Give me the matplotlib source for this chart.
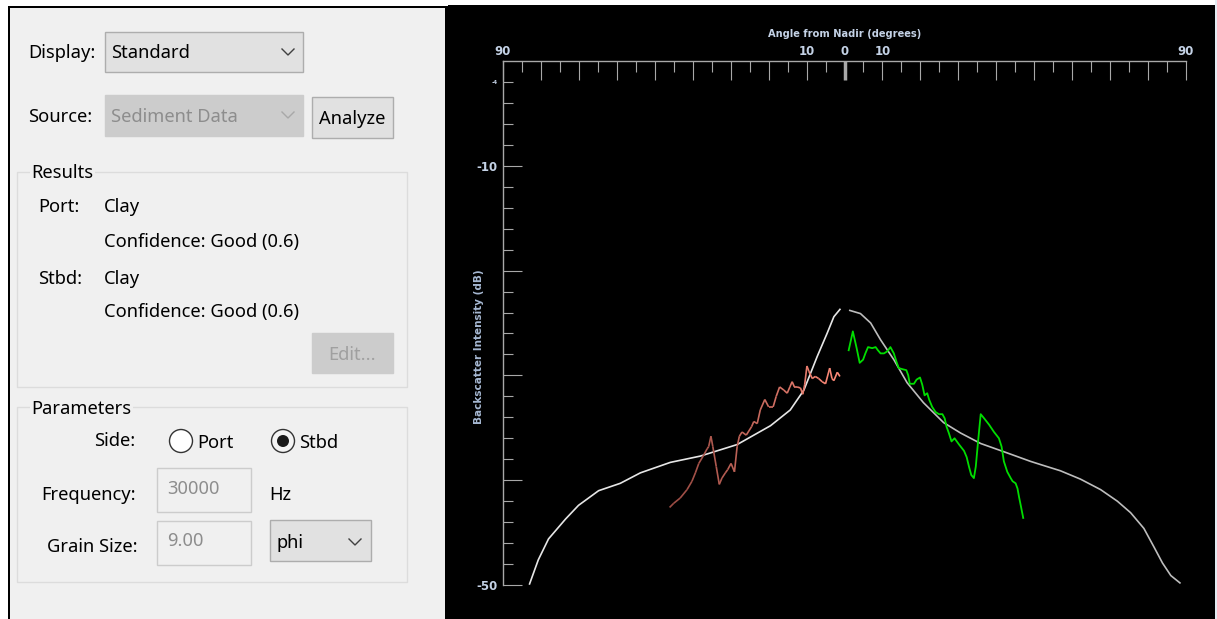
import numpy as np
import matplotlib
matplotlib.use("Agg")
from matplotlib import pyplot as plt
from matplotlib.patches import Rectangle, Circle
from matplotlib.collections import LineCollection
from matplotlib.colors import LinearSegmentedColormap

# model curve (white), port side and starboard side
model_port_angle = [-83.0, -80.7, -78.0, -73.5, -70.1, -64.8, -59.1, -53.8, -45.9, -38.0,
                    -28.3, -19.5, -14.3, -10.7, -7.2, -4.6, -2.8, -1.2]
model_port_db = [-49.9, -47.6, -45.6, -43.7, -42.4, -41.0, -40.3, -39.3, -38.3, -37.7,
                 -36.6, -34.8, -33.3, -31.4, -28.2, -26.0, -24.4, -23.7]
model_stbd_angle = [1.4, 4.2, 6.9, 9.5, 13.0, 16.5, 20.8, 26.1, 30.6, 35.9, 42.9, 49.0,
                    51.6, 56.9, 62.2, 67.5, 71.9, 75.4, 78.9, 81.6, 83.8, 86.0, 88.4]
model_stbd_db = [-23.8, -24.1, -25.0, -26.6, -28.5, -30.7, -32.6, -34.5, -35.5, -36.5,
                 -37.4, -38.2, -38.5, -39.1, -39.9, -40.9, -42.0, -43.1, -44.6, -46.4,
                 -47.9, -49.1, -49.8]

# measured port (red)
port_angle = [-46.1, -45.0, -43.3, -41.5, -40.2, -39.3, -38.4, -37.1, -36.2, -35.8, -35.2,
              -34.7, -33.8, -33.0, -32.3, -31.4, -30.8, -29.9, -29.0, -28.3, -27.7, -27.0,
              -25.9, -24.5, -23.9, -23.0, -22.2, -21.0, -20.0, -18.8, -18.0, -17.1, -16.0,
              -15.1, -14.4, -13.8, -13.2, -12.5, -11.6, -11.0, -10.5, -9.9, -9.4, -8.5,
              -7.7, -6.8, -5.9, -5.0, -3.9, -3.3, -2.8, -1.9, -1.2]
port_db = [-42.6, -42.2, -41.7, -40.9, -40.1, -39.3, -38.4, -37.6, -37.0, -36.8, -35.8,
           -36.8, -38.7, -40.4, -39.8, -39.3, -39.0, -38.4, -39.2, -36.8, -35.8, -35.4,
           -35.7, -34.9, -34.4, -34.6, -33.3, -32.3, -33.0, -33.0, -32.0, -31.1, -31.4,
           -31.7, -31.1, -30.6, -31.1, -31.1, -31.2, -31.8, -30.9, -29.1, -29.6, -30.3,
           -30.1, -30.3, -30.6, -30.8, -29.3, -30.3, -30.5, -29.7, -30.1]

# measured starboard (green)
stbd_angle = [1.1, 2.2, 3.2, 4.0, 4.9, 5.5, 6.2, 7.3, 8.2, 8.8, 9.5, 10.4, 11.3, 12.1, 13.0,
              13.7, 14.3, 15.2, 16.3, 16.8, 17.2, 18.3, 19.0, 19.9, 20.5, 21.1, 21.8, 22.3,
              23.1, 24.0, 24.9, 25.8, 26.4, 26.9, 27.5, 28.2, 29.0, 30.2, 31.5, 32.2, 32.8,
              33.4, 34.1, 34.6, 35.2, 35.9, 36.8, 38.1, 39.4, 40.7, 41.4, 42.0, 42.9, 43.8,
              44.3, 45.1, 45.6, 46.0, 46.5, 47.1]
stbd_db = [-27.6, -25.8, -27.4, -28.8, -28.5, -27.9, -27.3, -27.4, -27.3, -27.6, -27.9,
           -27.9, -27.7, -27.3, -27.9, -28.7, -29.3, -29.4, -29.5, -30.0, -30.8, -30.8,
           -30.4, -30.2, -30.9, -31.9, -31.7, -32.3, -33.0, -33.5, -33.7, -33.7, -34.1,
           -34.9, -35.5, -36.3, -36.0, -36.6, -37.2, -37.8, -38.7, -39.5, -39.8, -38.7,
           -36.3, -33.7, -34.1, -34.7, -35.4, -36.0, -36.8, -38.2, -39.2, -39.8, -40.1,
           -40.3, -40.8, -41.6, -42.5, -43.6]

x_major = list(range(-90, 91, 10))
x_labels = ['90', '', '', '', '', '', '', '', '10', '0', '10', '', '', '', '', '', '', '', '90']
y_major = [-50, -40, -30, -20, -10]
y_major_labels = ['-50', '', '', '', '-10']
y_minor = [v for v in range(-48, 0, 2) if v % 10 != 0]
y_minor_labels = ['-4' if v == -2 else '' for v in y_minor]

W, H = 1217, 619
fig = plt.figure(figsize=(W / 100, H / 100), dpi=100, facecolor='white')

# ---- background / left settings panel, drawn in pixel coordinates ----
ui = fig.add_axes([0, 0, 1, 1])
ui.set_xlim(0, W)
ui.set_ylim(H, 0)
ui.axis('off')

ui.add_patch(Rectangle((1215, 0), 2, H, facecolor='#e3ebf2', edgecolor='none'))
ui.add_patch(Rectangle((8, 6), 440, H, facecolor='black', edgecolor='none'))
ui.add_patch(Rectangle((10, 8), 435, H, facecolor='#f0f0f0', edgecolor='none'))
ui.add_patch(Rectangle((448, 5), 767, H, facecolor='black', edgecolor='none'))

gui_font = 'Noto Sans'
fs = 13.2


def label(x, y, s, color='black', ha='left', bg=None):
    # +1.5 px: Noto's centre sits a little high compared with the Windows font
    t = ui.text(x, y + 1.5, s, fontsize=fs, family=gui_font, color=color, ha=ha, va='center')
    if bg:
        t.set_bbox(dict(facecolor=bg, edgecolor='none', pad=1))
    return t


def box(x0, y0, x1, y1, face, edge):
    ui.add_patch(Rectangle((x0, y0), x1 - x0, y1 - y0, facecolor=face, edgecolor=edge, lw=1))


def chevron(x, y, color):
    ui.plot([x - 6, x, x + 6], [y - 3, y + 3, y - 3], color=color, lw=1)


label(28, 52, 'Display:')
box(105, 32, 303, 72, '#e1e1e1', '#adadad')
label(111, 52, 'Standard')
chevron(288, 52, '#404040')

label(28, 115, 'Source:')
box(105, 95, 303, 136, '#cccccc', '#cccccc')
label(111, 116, 'Sediment Data', color='#8d8d8d')
chevron(288, 115, '#a8a8a8')

box(312, 97, 393, 138, '#e1e1e1', '#adadad')
label(352.5, 118, 'Analyze', ha='center')

box(17, 172, 407, 387, 'none', '#dcdcdc')
label(31, 171, 'Results', bg='#f0f0f0')
label(38, 205, 'Port:')
label(104, 205, 'Clay')
label(104, 241, 'Confidence: Good (0.6)')
label(38, 278, 'Stbd:')
label(104, 278, 'Clay')
label(104, 311, 'Confidence: Good (0.6)')
box(312, 333, 393, 373, '#cccccc', '#cccccc')
label(352.5, 354, 'Edit...', color='#a0a0a0', ha='center')

box(17, 407, 407, 582, 'none', '#dcdcdc')
label(31, 407, 'Parameters', bg='#f0f0f0')
label(135, 440, 'Side:', ha='right')
ui.add_patch(Circle((181, 441), 11.5, facecolor='white', edgecolor='#333333', lw=1))
label(197, 441, 'Port')
ui.add_patch(Circle((283, 441), 11.5, facecolor='#f4f4f4', edgecolor='#333333', lw=1))
ui.add_patch(Circle((283, 441), 6, facecolor='#1a1a1a', edgecolor='none'))
label(299, 441, 'Stbd')

label(136, 493, 'Frequency:', ha='right')
box(157, 468, 251, 512, '#f0f0f0', '#cccccc')
label(167, 487, '30000', color='#8d8d8d')
label(269, 493, 'Hz')

label(138, 546, 'Grain Size:', ha='right')
box(157, 521, 251, 565, '#f0f0f0', '#cccccc')
label(167, 540, '9.00', color='#8d8d8d')
box(270, 520, 371, 561, '#e1e1e1', '#adadad')
label(276, 542, 'phi')
chevron(355, 542, '#404040')

# ---- backscatter chart ----
ax_l, ax_t, ax_r, ax_b = 503, 61, 1186, 585
ax = fig.add_axes([ax_l / W, 1 - ax_b / H, (ax_r - ax_l) / W, (ax_b - ax_t) / H])
ax.set_facecolor('black')
ax.set_xlim(-90, 90)
ax.set_ylim(-50, 0)

for s in ['bottom', 'right']:
    ax.spines[s].set_visible(False)
for s in ['top', 'left']:
    ax.spines[s].set_color('#a8a8a8')
    ax.spines[s].set_linewidth(1)

axis_txt = '#c4d2e6'
tick_font = ['Liberation Sans Narrow', 'DejaVu Sans']

ax.xaxis.tick_top()
ax.set_xticks(x_major, labels=x_labels)
ax.set_xticks(list(range(-85, 90, 10)), minor=True)
ax.tick_params(axis='x', which='major', direction='in', length=14, width=0.8,
               color='#a8a8a8', labelcolor=axis_txt, labelsize=8.5, pad=2)
ax.tick_params(axis='x', which='minor', direction='in', length=8, width=0.8, color='#a8a8a8')
ax.set_yticks(y_major, labels=y_major_labels)
ax.set_yticks(y_minor, labels=y_minor_labels, minor=True)
ax.tick_params(axis='y', which='major', direction='in', length=14, width=0.8,
               color='#a8a8a8', labelcolor=axis_txt, labelsize=8.5, pad=4)
ax.tick_params(axis='y', which='minor', direction='in', length=7, width=0.8,
               color='#a8a8a8', labelcolor=axis_txt, labelsize=4, pad=4)
for lab in ax.get_xticklabels() + ax.get_yticklabels() + ax.get_yticklabels(minor=True):
    lab.set_family(tick_font)
    lab.set_fontweight('bold')

# bright nadir tick
nadir = ax.xaxis.get_major_ticks()[x_major.index(0)]
nadir.tick2line.set_markeredgewidth(2.5)
nadir.tick2line.set_color('#e8e8e8')

ax.text(0.5, 1.052, 'Angle from Nadir (degrees)', transform=ax.transAxes, ha='center',
        va='center', color=axis_txt, fontsize=7.1, fontweight='bold', family=tick_font)
ax.set_ylabel('Backscatter Intensity (dB)', color='#a6b8d2', fontsize=7.5,
              fontweight='bold', family=tick_font)
ax.yaxis.set_label_coords(-0.028, 0.455)

ax.plot(model_port_angle, model_port_db, color='#e6e6e6', lw=1.2)
ax.plot(model_stbd_angle, model_stbd_db, color='#bdbdbd', lw=1.2)

pts = np.column_stack([port_angle, port_db]).reshape(-1, 1, 2)
segs = np.concatenate([pts[:-1], pts[1:]], axis=1)
red_cmap = LinearSegmentedColormap.from_list('port', ['#9c4c44', '#c86a5e', '#ff8a78'])
lc = LineCollection(segs, cmap=red_cmap, lw=1.2)
lc.set_array(np.linspace(0, 1, len(segs)))
ax.add_collection(lc)

ax.plot(stbd_angle, stbd_db, color='#00dd00', lw=1.3)

fig.savefig('out.png', dpi=100, facecolor=fig.get_facecolor())
